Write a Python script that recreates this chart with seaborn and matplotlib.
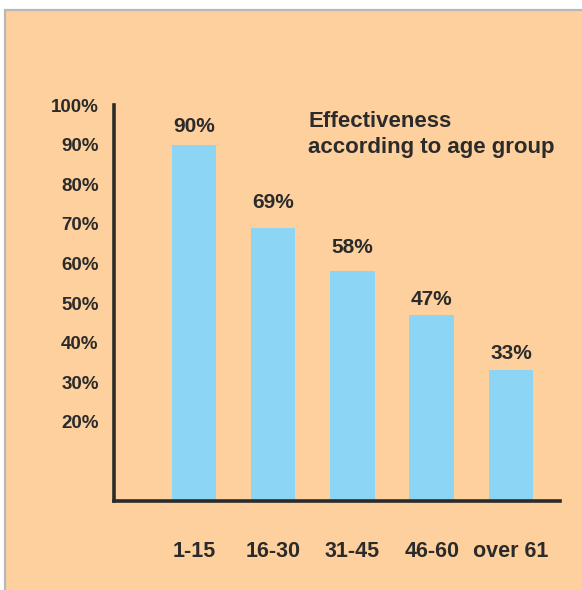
import matplotlib
matplotlib.use("Agg")
import matplotlib.pyplot as plt
from matplotlib.patches import Rectangle
import seaborn as sns
import pandas as pd

# Effectiveness by age group (percent)
age_groups = ["1-15", "16-30", "31-45", "46-60", "over 61"]
effectiveness = [90, 69, 58, 47, 33]
y_ticks = [20, 30, 40, 50, 60, 70, 80, 90, 100]
title_lines = ["Effectiveness", "according to age group"]

# vertical gap (points) between each bar top and its value label
label_gaps = [13, 18, 17, 11, 12]

PEACH = "#FDD09D"
BLUE = "#8DD5F5"
INK = "#2b2b2b"

sns.set_theme(style="white")
plt.rcParams["font.family"] = ["Liberation Sans", "DejaVu Sans"]

W, H = 582, 590
fig = plt.figure(figsize=(W / 100, H / 100), dpi=100)
fig.patch.set_facecolor("white")

# peach panel with a thin grey edge on the left and top
panel = Rectangle((5 / W, -0.01), 1.02, 1 - 10 / H + 0.01,
                  transform=fig.transFigure, facecolor=PEACH,
                  edgecolor="#b8b8b8", linewidth=1.6, zorder=-5)
fig.patches.append(panel)

ax = fig.add_axes([114 / W, 89 / H, (560 - 114) / W, 396 / H])
ax.set_zorder(1)
ax.set_facecolor("none")

df = pd.DataFrame({"age": age_groups, "pct": effectiveness})
sns.barplot(data=df, x="age", y="pct", color=BLUE, saturation=1,
            width=0.56, ax=ax, zorder=2)
for p in ax.patches:
    p.set_edgecolor("none")

ax.set_ylim(0, 100)
ax.set_xlim(-1.01, 4.62)
ax.set_yticks(y_ticks)
ax.set_yticklabels([f"{v}%" for v in y_ticks])
ax.set_xlabel("")
ax.set_ylabel("")

for side in ("top", "right"):
    ax.spines[side].set_visible(False)
for side in ("left", "bottom"):
    ax.spines[side].set_visible(True)
    ax.spines[side].set_color(INK)
    ax.spines[side].set_linewidth(2.6)

ax.tick_params(axis="y", length=0, pad=11, labelsize=13.5, labelcolor=INK)
ax.tick_params(axis="x", length=0, pad=29, labelsize=15.5, labelcolor=INK)
for lbl in ax.get_xticklabels() + ax.get_yticklabels():
    lbl.set_fontweight("bold")

for i, (v, gap) in enumerate(zip(effectiveness, label_gaps)):
    ax.annotate(f"{v}%", xy=(i, v), xytext=(0, gap), textcoords="offset points",
                ha="center", va="center", fontsize=15, fontweight="bold",
                color=INK)

fig.text(308 / W, 1 - 127 / H, title_lines[0], ha="left", va="baseline",
         fontsize=16, fontweight="bold", color=INK)
fig.text(308 / W, 1 - 153 / H, title_lines[1], ha="left", va="baseline",
         fontsize=16, fontweight="bold", color=INK)

fig.savefig("out.png", dpi=100, facecolor=fig.get_facecolor())
